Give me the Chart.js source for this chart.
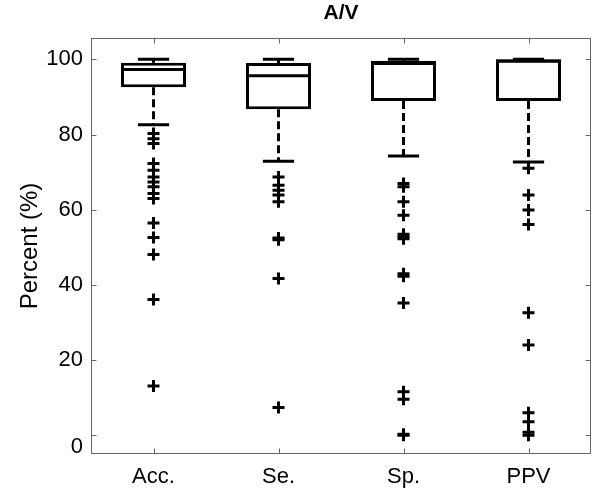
<!DOCTYPE html>
<html><head><meta charset="utf-8">
<script src="https://cdn.jsdelivr.net/npm/chart.js@4"></script>
<style>html,body{margin:0;padding:0;overflow:hidden;background:#fff}canvas{display:block}</style>
</head><body>
<canvas id="c" width="600" height="491" style="width:600px;height:491px"></canvas>
<script>
const categories = ['Acc.', 'Se.', 'Sp.', 'PPV'];
const q1 = [92.6, 86.7, 88.9, 88.9];
const q3 = [99.1, 99.0, 99.6, 100];
const medians = [97.3, 95.6, 98.9, 99.5];
const whiskerLow = [82.6, 72.9, 74.3, 72.7];
const whiskerHigh = [100, 100, 100, 100];
const outliersAcc = [80.3, 78.9, 77.6, 72.3, 70.5, 68.7, 67.4, 66.1, 64.3, 63.0, 56.5, 52.6, 48.1, 36.1, 13.1];
const outliersSe = [68.7, 66.5, 65.2, 63.9, 62.1, 52.5, 52.0, 41.7, 7.4];
const outliersSp = [67.0, 66.1, 62.1, 58.5, 53.5, 52.8, 52.3, 43.0, 42.3, 35.2, 11.6, 9.6, 0.3, 0];
const outliersPPV = [71.0, 63.9, 59.9, 56.1, 32.6, 24.0, 6.0, 3.6, 0.8, 0];
const yTicks = [0, 20, 40, 60, 80, 100];
const titleText = 'A/V';
const yLabel = 'Percent (%)';
const outlierSets = [outliersAcc, outliersSe, outliersSp, outliersPPV];

Chart.defaults.font.family = "'Liberation Sans', Arial, sans-serif";
Chart.defaults.color = '#000';

const capHalf = 0.125;
const boxPlugin = {
  id: 'boxparts',
  beforeDatasetsDraw(chart) {
    const {ctx, scales: {x, y}} = chart;
    ctx.save();
    ctx.strokeStyle = '#000';
    ctx.lineWidth = 3;
    categories.forEach((c, i) => {
      const px = x.getPixelForValue(i + 1);
      ctx.setLineDash([8, 4]);
      ctx.beginPath();
      ctx.moveTo(px, y.getPixelForValue(q1[i]));
      ctx.lineTo(px, y.getPixelForValue(whiskerLow[i]));
      ctx.moveTo(px, y.getPixelForValue(q3[i]));
      ctx.lineTo(px, y.getPixelForValue(whiskerHigh[i]));
      ctx.stroke();
      ctx.setLineDash([]);
      const hw = x.getPixelForValue(i + 1 + capHalf) - px;
      ctx.beginPath();
      [whiskerLow[i], whiskerHigh[i]].forEach(v => {
        const py = y.getPixelForValue(v);
        ctx.moveTo(px - hw, py); ctx.lineTo(px + hw, py);
      });
      ctx.stroke();
    });
    ctx.restore();
  },
  afterDatasetsDraw(chart) {
    const {ctx, scales: {x, y}} = chart;
    const meta = chart.getDatasetMeta(0);
    ctx.save();
    ctx.strokeStyle = '#000';
    ctx.lineWidth = 3;
    categories.forEach((c, i) => {
      const bar = meta.data[i];
      const px = x.getPixelForValue(i + 1);
      const hw = bar.width / 2;
      const py = y.getPixelForValue(medians[i]);
      ctx.beginPath();
      ctx.moveTo(px - hw, py); ctx.lineTo(px + hw, py);
      ctx.stroke();
    });
    ctx.restore();
  },
  afterDraw(chart) {
    const {ctx, chartArea: a, scales: {x, y}} = chart;
    ctx.save();
    ctx.strokeStyle = '#666';
    ctx.lineWidth = 1;
    const L = Math.round(a.left) + 0.5, R = Math.round(a.right) - 0.5;
    const T = Math.round(a.top) + 0.5, B = Math.round(a.bottom) - 0.5;
    ctx.strokeRect(L, T, R - L, B - T);
    ctx.beginPath();
    y.ticks.forEach(t => {
      const py = Math.round(y.getPixelForValue(t.value)) + 0.5;
      ctx.moveTo(L, py); ctx.lineTo(L + 5, py);
      ctx.moveTo(R, py); ctx.lineTo(R - 5, py);
    });
    x.ticks.forEach(t => {
      const px = Math.round(x.getPixelForValue(t.value)) + 0.5;
      ctx.moveTo(px, B); ctx.lineTo(px, B - 5);
      ctx.moveTo(px, T); ctx.lineTo(px, T + 5);
    });
    ctx.stroke();
    // title centred over the axes
    ctx.fillStyle = '#000';
    ctx.font = "bold 21px 'Liberation Sans', Arial, sans-serif";
    ctx.textAlign = 'center';
    ctx.textBaseline = 'middle';
    ctx.fillText(titleText, (a.left + a.right) / 2, 13.5);
    ctx.restore();
  }
};

const boxData = categories.map((c, i) => ({x: i + 1, y: [q1[i], q3[i]]}));
const outlierData = [];
outlierSets.forEach((arr, i) => arr.forEach(v => outlierData.push({x: i + 1, y: v})));

new Chart(document.getElementById('c'), {
  data: {
    datasets: [
      {type: 'bar', data: boxData, backgroundColor: '#fff', borderColor: '#000', borderWidth: 3,
       borderSkipped: false, barPercentage: 0.52, categoryPercentage: 1, order: 2},
      {type: 'scatter', data: outlierData, pointStyle: 'cross', radius: 6, borderWidth: 3,
       borderColor: '#000', backgroundColor: '#000', order: 1}
    ]
  },
  options: {
    responsive: false, animation: false, devicePixelRatio: 1,
    layout: {padding: {left: 0, right: 5, top: 37.7, bottom: 0}},
    plugins: {legend: {display: false}, tooltip: {enabled: false}, title: {display: false}},
    scales: {
      x: {type: 'linear', min: 0.5, max: 4.5, offset: false,
          afterBuildTicks: s => { s.ticks = categories.map((c, i) => ({value: i + 1})); },
          ticks: {callback: v => categories[v - 1], font: {size: 22}, color: '#000', padding: 9, maxRotation: 0},
          grid: {display: false, drawTicks: false, offset: false}, border: {display: false},
          afterFit: s => { s.height = 36.7; }},
      y: {type: 'linear', min: -5.05, max: 105.75,
          afterBuildTicks: s => { s.ticks = yTicks.map(v => ({value: v})); },
          ticks: {
            callback: v => v === 0 ? ['', '0'] : String(v),
            font: c => (c.tick && c.tick.value === 0) ? {size: 22, lineHeight: 1.05} : {size: 22},
            color: '#000', padding: 8},
          grid: {display: false, drawTicks: false}, border: {display: false},
          title: {display: true, text: yLabel, color: '#000', font: {size: 24}, padding: {top: 15.6, bottom: 0}},
          afterFit: s => { s.width = 91; }}
    }
  },
  plugins: [boxPlugin]
});
</script>
</body></html>
